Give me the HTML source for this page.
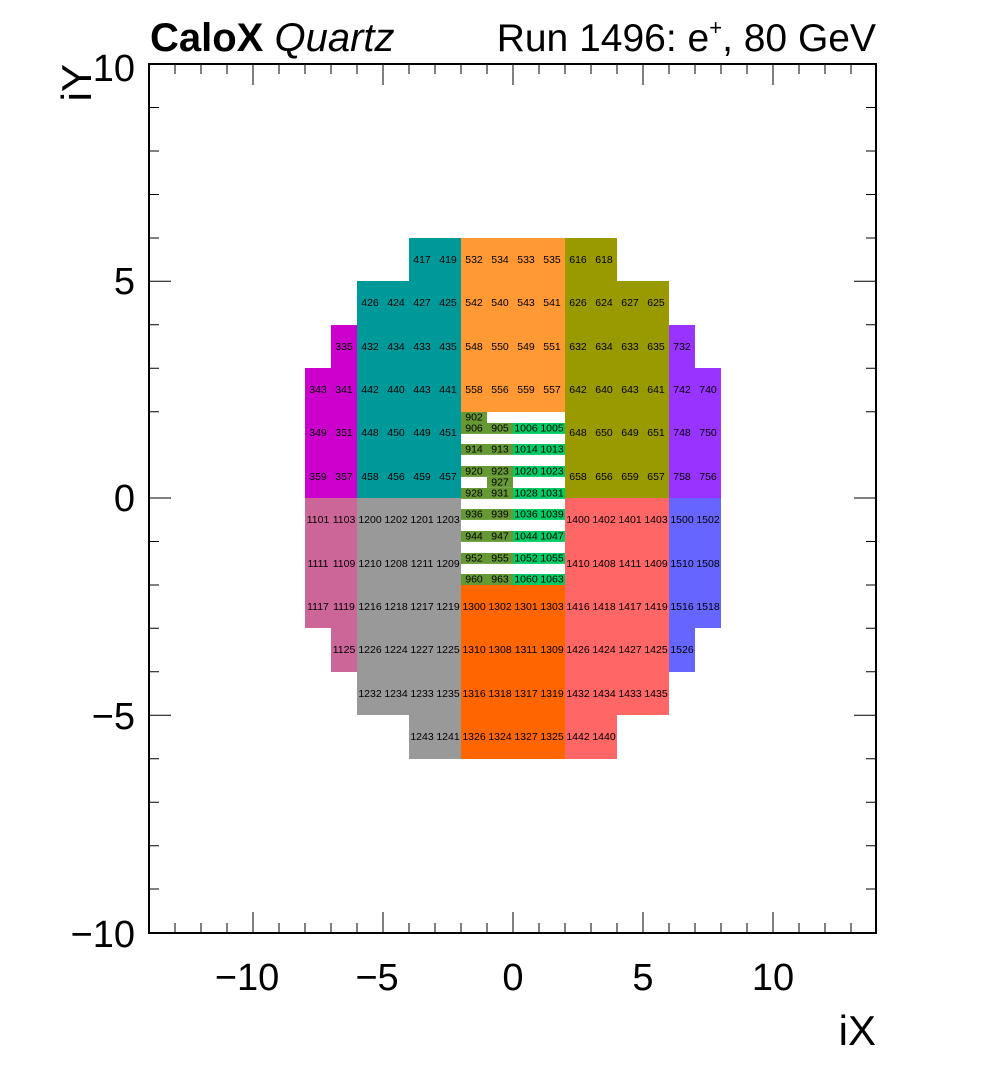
<!DOCTYPE html>
<html><head><meta charset="utf-8"><style>
html,body{margin:0;padding:0;background:#fff}
svg{display:block}
.c text{font-family:"Liberation Sans",sans-serif;font-size:10.5px;text-anchor:middle;dominant-baseline:central;fill:#000}
.ax{font-family:"Liberation Sans",sans-serif;font-size:38px;fill:#000}
</style></head><body>
<svg width="996" height="1072" viewBox="0 0 996 1072" xmlns="http://www.w3.org/2000/svg">
<rect width="996" height="1072" fill="#fff"/>
<rect x="305" y="368" width="52" height="130" fill="#cc00cc"/>
<rect x="331" y="325" width="26" height="43" fill="#cc00cc"/>
<rect x="357" y="281" width="104" height="217" fill="#009999"/>
<rect x="409" y="238" width="52" height="43" fill="#009999"/>
<rect x="461" y="238" width="104" height="174" fill="#ff9933"/>
<rect x="565" y="238" width="52" height="43" fill="#999900"/>
<rect x="565" y="281" width="104" height="217" fill="#999900"/>
<rect x="669" y="325" width="26" height="43" fill="#9933ff"/>
<rect x="669" y="368" width="52" height="130" fill="#9933ff"/>
<rect x="305" y="498" width="52" height="130" fill="#cc6699"/>
<rect x="331" y="628" width="26" height="44" fill="#cc6699"/>
<rect x="357" y="498" width="104" height="217" fill="#999999"/>
<rect x="409" y="715" width="52" height="44" fill="#999999"/>
<rect x="461" y="585" width="104" height="174" fill="#ff6600"/>
<rect x="565" y="498" width="104" height="217" fill="#ff6666"/>
<rect x="565" y="715" width="52" height="44" fill="#ff6666"/>
<rect x="669" y="498" width="52" height="130" fill="#6666ff"/>
<rect x="669" y="628" width="26" height="44" fill="#6666ff"/>
<rect x="461" y="412" width="26" height="11" fill="#669933"/>
<g fill="#669933">
<rect x="461" y="423" width="52" height="10.9"/>
<rect x="461" y="444" width="52" height="10.9"/>
<rect x="461" y="466" width="52" height="10.9"/>
<rect x="487" y="477" width="26" height="10.9"/>
<rect x="461" y="488" width="52" height="10.9"/>
<rect x="461" y="509" width="52" height="10.9"/>
<rect x="461" y="531" width="52" height="10.9"/>
<rect x="461" y="553" width="52" height="10.9"/>
<rect x="461" y="574" width="52" height="11"/>
</g>
<g fill="#00cc66">
<rect x="513" y="423" width="52" height="10.9"/>
<rect x="513" y="444" width="52" height="10.9"/>
<rect x="513" y="466" width="52" height="10.9"/>
<rect x="513" y="488" width="52" height="10.9"/>
<rect x="513" y="509" width="52" height="10.9"/>
<rect x="513" y="531" width="52" height="10.9"/>
<rect x="513" y="553" width="52" height="10.9"/>
<rect x="513" y="574" width="52" height="11"/>
</g>
<g class="c">
<text x="422" y="260">417</text><text x="448" y="260">419</text><text x="474" y="260">532</text><text x="500" y="260">534</text><text x="526" y="260">533</text><text x="552" y="260">535</text><text x="578" y="260">616</text><text x="604" y="260">618</text>
<text x="370" y="303">426</text><text x="396" y="303">424</text><text x="422" y="303">427</text><text x="448" y="303">425</text><text x="474" y="303">542</text><text x="500" y="303">540</text><text x="526" y="303">543</text><text x="552" y="303">541</text><text x="578" y="303">626</text><text x="604" y="303">624</text><text x="630" y="303">627</text><text x="656" y="303">625</text>
<text x="344" y="347">335</text><text x="370" y="347">432</text><text x="396" y="347">434</text><text x="422" y="347">433</text><text x="448" y="347">435</text><text x="474" y="347">548</text><text x="500" y="347">550</text><text x="526" y="347">549</text><text x="552" y="347">551</text><text x="578" y="347">632</text><text x="604" y="347">634</text><text x="630" y="347">633</text><text x="656" y="347">635</text><text x="682" y="347">732</text>
<text x="318" y="390">343</text><text x="344" y="390">341</text><text x="370" y="390">442</text><text x="396" y="390">440</text><text x="422" y="390">443</text><text x="448" y="390">441</text><text x="474" y="390">558</text><text x="500" y="390">556</text><text x="526" y="390">559</text><text x="552" y="390">557</text><text x="578" y="390">642</text><text x="604" y="390">640</text><text x="630" y="390">643</text><text x="656" y="390">641</text><text x="682" y="390">742</text><text x="708" y="390">740</text>
<text x="318" y="433">349</text><text x="344" y="433">351</text><text x="370" y="433">448</text><text x="396" y="433">450</text><text x="422" y="433">449</text><text x="448" y="433">451</text><text x="578" y="433">648</text><text x="604" y="433">650</text><text x="630" y="433">649</text><text x="656" y="433">651</text><text x="682" y="433">748</text><text x="708" y="433">750</text>
<text x="318" y="477">359</text><text x="344" y="477">357</text><text x="370" y="477">458</text><text x="396" y="477">456</text><text x="422" y="477">459</text><text x="448" y="477">457</text><text x="578" y="477">658</text><text x="604" y="477">656</text><text x="630" y="477">659</text><text x="656" y="477">657</text><text x="682" y="477">758</text><text x="708" y="477">756</text>
<text x="318" y="520">1101</text><text x="344" y="520">1103</text><text x="370" y="520">1200</text><text x="396" y="520">1202</text><text x="422" y="520">1201</text><text x="448" y="520">1203</text><text x="578" y="520">1400</text><text x="604" y="520">1402</text><text x="630" y="520">1401</text><text x="656" y="520">1403</text><text x="682" y="520">1500</text><text x="708" y="520">1502</text>
<text x="318" y="564">1111</text><text x="344" y="564">1109</text><text x="370" y="564">1210</text><text x="396" y="564">1208</text><text x="422" y="564">1211</text><text x="448" y="564">1209</text><text x="578" y="564">1410</text><text x="604" y="564">1408</text><text x="630" y="564">1411</text><text x="656" y="564">1409</text><text x="682" y="564">1510</text><text x="708" y="564">1508</text>
<text x="318" y="607">1117</text><text x="344" y="607">1119</text><text x="370" y="607">1216</text><text x="396" y="607">1218</text><text x="422" y="607">1217</text><text x="448" y="607">1219</text><text x="474" y="607">1300</text><text x="500" y="607">1302</text><text x="526" y="607">1301</text><text x="552" y="607">1303</text><text x="578" y="607">1416</text><text x="604" y="607">1418</text><text x="630" y="607">1417</text><text x="656" y="607">1419</text><text x="682" y="607">1516</text><text x="708" y="607">1518</text>
<text x="344" y="650">1125</text><text x="370" y="650">1226</text><text x="396" y="650">1224</text><text x="422" y="650">1227</text><text x="448" y="650">1225</text><text x="474" y="650">1310</text><text x="500" y="650">1308</text><text x="526" y="650">1311</text><text x="552" y="650">1309</text><text x="578" y="650">1426</text><text x="604" y="650">1424</text><text x="630" y="650">1427</text><text x="656" y="650">1425</text><text x="682" y="650">1526</text>
<text x="370" y="694">1232</text><text x="396" y="694">1234</text><text x="422" y="694">1233</text><text x="448" y="694">1235</text><text x="474" y="694">1316</text><text x="500" y="694">1318</text><text x="526" y="694">1317</text><text x="552" y="694">1319</text><text x="578" y="694">1432</text><text x="604" y="694">1434</text><text x="630" y="694">1433</text><text x="656" y="694">1435</text>
<text x="422" y="737">1243</text><text x="448" y="737">1241</text><text x="474" y="737">1326</text><text x="500" y="737">1324</text><text x="526" y="737">1327</text><text x="552" y="737">1325</text><text x="578" y="737">1442</text><text x="604" y="737">1440</text>
<text x="474" y="417.5">902</text>
<text x="474" y="428.5">906</text><text x="500" y="428.5">905</text><text x="526" y="428.5">1006</text><text x="552" y="428.5">1005</text>
<text x="474" y="449.5">914</text><text x="500" y="449.5">913</text><text x="526" y="449.5">1014</text><text x="552" y="449.5">1013</text>
<text x="474" y="471.5">920</text><text x="500" y="471.5">923</text><text x="526" y="471.5">1020</text><text x="552" y="471.5">1023</text>
<text x="500" y="482.5">927</text>
<text x="474" y="493.5">928</text><text x="500" y="493.5">931</text><text x="526" y="493.5">1028</text><text x="552" y="493.5">1031</text>
<text x="474" y="514.5">936</text><text x="500" y="514.5">939</text><text x="526" y="514.5">1036</text><text x="552" y="514.5">1039</text>
<text x="474" y="536.5">944</text><text x="500" y="536.5">947</text><text x="526" y="536.5">1044</text><text x="552" y="536.5">1047</text>
<text x="474" y="558.5">952</text><text x="500" y="558.5">955</text><text x="526" y="558.5">1052</text><text x="552" y="558.5">1055</text>
<text x="474" y="579.5">960</text><text x="500" y="579.5">963</text><text x="526" y="579.5">1060</text><text x="552" y="579.5">1063</text>
</g>
<g stroke="#000" stroke-width="1">
<path d="M175 933v-10M201 933v-10M227 933v-10M253 933v-21M279 933v-10M305 933v-10M331 933v-10M357 933v-10M383 933v-21M409 933v-10M435 933v-10M461 933v-10M487 933v-10M513 933v-21M539 933v-10M565 933v-10M591 933v-10M617 933v-10M643 933v-21M669 933v-10M695 933v-10M721 933v-10M747 933v-10M773 933v-21M799 933v-10M825 933v-10M851 933v-10"/>
<path d="M175 64v10M201 64v10M227 64v10M253 64v21M279 64v10M305 64v10M331 64v10M357 64v10M383 64v21M409 64v10M435 64v10M461 64v10M487 64v10M513 64v21M539 64v10M565 64v10M591 64v10M617 64v10M643 64v21M669 64v10M695 64v10M721 64v10M747 64v10M773 64v21M799 64v10M825 64v10M851 64v10"/>
<path d="M149 107.5h10M149 151h10M149 194.5h10M149 238h10M149 281.2h22M149 324.8h10M149 368.2h10M149 411.7h10M149 498h22M149 541.5h10M149 585h10M149 628.3h10M149 671.8h10M149 715.2h22M149 758.7h10M149 802.2h10M149 845.7h10M149 889h10"/>
<path d="M876 107.5h-10M876 151h-10M876 194.5h-10M876 238h-10M876 281.2h-22M876 324.8h-10M876 368.2h-10M876 411.7h-10M876 498h-22M876 541.5h-10M876 585h-10M876 628.3h-10M876 671.8h-10M876 715.2h-22M876 758.7h-10M876 802.2h-10M876 845.7h-10M876 889h-10"/>
</g>
<rect x="149" y="64" width="727" height="869" fill="none" stroke="#000" stroke-width="2"/>
<g class="ax" text-anchor="end">
<text x="135" y="81">10</text>
<text x="135" y="294">5</text>
<text x="135" y="511">0</text>
<text x="135" y="729">−5</text>
<text x="135" y="947">−10</text>
</g>
<g class="ax" text-anchor="middle">
<text x="247" y="990">−10</text>
<text x="377" y="990">−5</text>
<text x="513" y="990">0</text>
<text x="643" y="990">5</text>
<text x="773" y="990">10</text>
</g>
<text x="876" y="1045" text-anchor="end" font-family="Liberation Sans, sans-serif" font-size="42">iX</text>
<text transform="translate(91,64) rotate(-90)" text-anchor="end" font-family="Liberation Sans, sans-serif" font-size="42">iY</text>
<text x="150" y="51" font-family="Liberation Sans, sans-serif" font-size="40"><tspan font-weight="bold">CaloX</tspan> <tspan font-style="italic">Quartz</tspan></text>
<text x="876" y="51" text-anchor="end" font-family="Liberation Sans, sans-serif" font-size="39">Run 1496: e<tspan font-size="22" dy="-16">+</tspan><tspan dy="16">, 80 GeV</tspan></text>
</svg>
</body></html>
